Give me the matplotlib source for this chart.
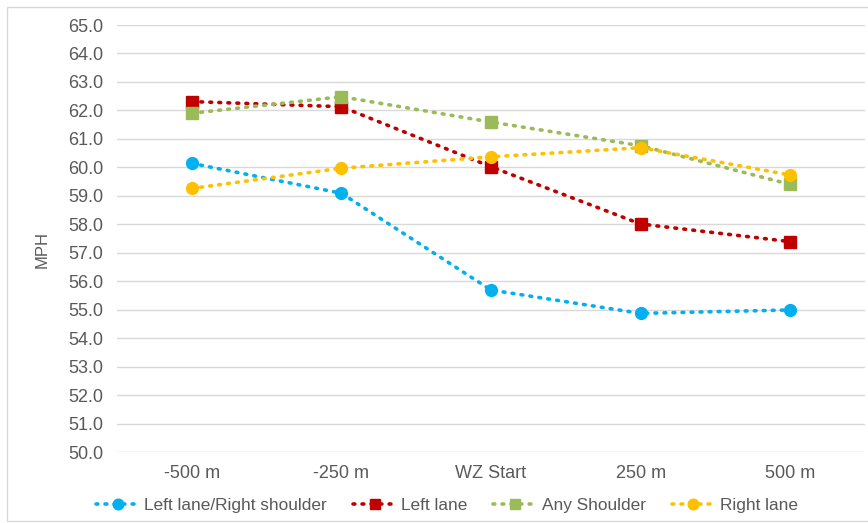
import matplotlib
matplotlib.use("Agg")
import matplotlib.pyplot as plt
from matplotlib.patches import Rectangle

categories = ["-500 m", "-250 m", "WZ Start", "250 m", "500 m"]
left_right_shoulder = [60.14, 59.09, 55.69, 54.87, 54.99]
left_lane = [62.31, 62.13, 60.02, 58.01, 57.39]
any_shoulder = [61.90, 62.48, 61.59, 60.76, 59.40]
right_lane = [59.26, 59.97, 60.37, 60.69, 59.73]
y_ticks = [50 + i for i in range(16)]

plt.rcParams['font.family'] = ['Liberation Sans', 'DejaVu Sans']

fig = plt.figure(figsize=(8.68, 5.23), dpi=100)
ax = fig.add_axes([117/868, 1-452/523, (865-117)/868, (452-25)/523])

x = list(range(len(categories)))
series = [
    ("Left lane/Right shoulder", left_right_shoulder, "#00B0F0", "o"),
    ("Left lane", left_lane, "#C00000", "s"),
    ("Any Shoulder", any_shoulder, "#9BBB59", "s"),
    ("Right lane", right_lane, "#FFC000", "o"),
]
for name, vals, col, mk in series:
    ax.plot(x, vals, color=col, linestyle=(0, (0.5, 2.0)), linewidth=2.6,
            dash_capstyle='round', marker=mk, markersize=8.5 if mk == "o" else 8,
            markeredgecolor=col, markerfacecolor=col, label=name)

ax.set_xlim(-0.5, 4.5)
ax.set_ylim(50, 65)
ax.set_yticks(y_ticks)
ax.set_yticklabels([f"{v:.1f}" for v in y_ticks])
ax.set_xticks(x)
ax.set_xticklabels(categories)
ax.grid(axis='y', color='#D9D9D9', linewidth=1)
ax.set_axisbelow(True)
for s in ax.spines.values():
    s.set_visible(False)
ax.tick_params(axis='both', length=0, labelsize=13, colors='#595959')
ax.tick_params(axis='y', pad=35.3)
ax.tick_params(axis='x', pad=9)
for lbl in ax.get_yticklabels():
    lbl.set_horizontalalignment('left')
ax.set_ylabel("MPH", fontsize=12, color='#595959')
ax.yaxis.set_label_coords(-0.09, 0.475)

leg = fig.legend(loc='center', bbox_to_anchor=(0.515, 1-505/523), ncol=4, frameon=False,
                 fontsize=12.4, handlelength=2.5, columnspacing=1.5, handletextpad=0.3,
                 markerscale=0.9)
for t in leg.get_texts():
    t.set_color('#595959')

fig.patches.append(Rectangle((7/868, 0.003), 1.0, 1-7/523-0.003, transform=fig.transFigure,
                             fill=False, edgecolor='#D9D9D9', linewidth=1))

fig.savefig("out.png", dpi=100)
